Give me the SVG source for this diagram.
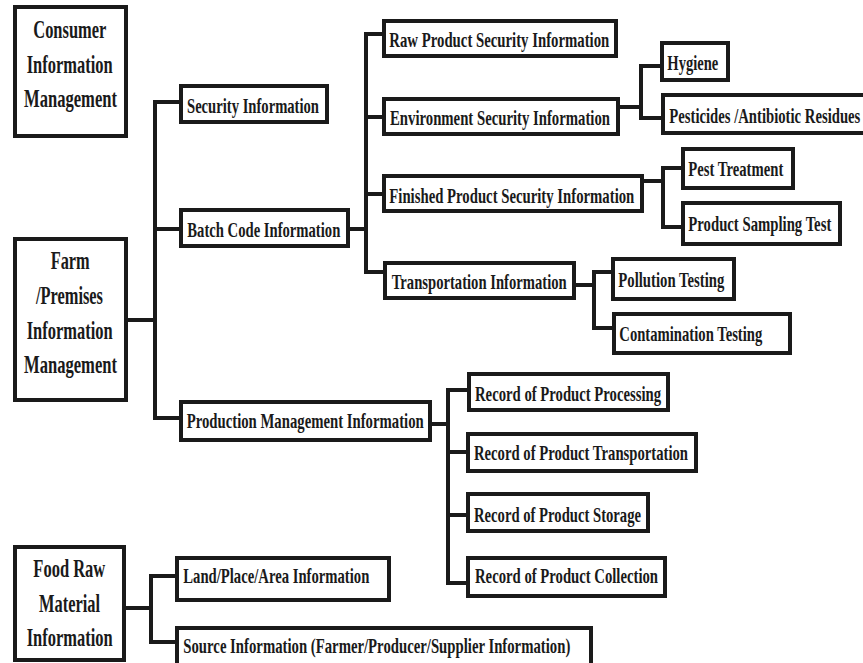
<svg xmlns="http://www.w3.org/2000/svg" width="863" height="663" viewBox="0 0 863 663">
<style>
.box{fill:#fff;stroke:#1a1a1a;stroke-width:4}
.c{fill:none;stroke:#1a1a1a;stroke-width:4;stroke-linecap:square}
text{font-family:"Liberation Serif","Times New Roman",serif;font-weight:bold;font-size:22px;fill:#1a1a1a}
.big{font-size:25px}
</style>
<rect width="863" height="663" fill="#fff"/>
<g id="connectors">
<path class="c" d="M126 320H155M179 102H155V418H179M155 229H179"/>
<path class="c" d="M350 229H366M382 34H366V272H382M366 117H382M366 194H382"/>
<path class="c" d="M620 107H641M660 66H641V118H661"/>
<path class="c" d="M644 181H663M681 168H663V227H681"/>
<path class="c" d="M576 285H594M611 272H594V328H612"/>
<path class="c" d="M432 424H448M467 390H448V583H467M448 452H466M448 515H466"/>
<path class="c" d="M124 608H151M175 576H151V642H175"/>
</g>
<g id="consumer">
<rect class="box" x="15" y="7" width="111" height="129"/>
<text class="big" x="33.3" y="37.7" textLength="73" lengthAdjust="spacingAndGlyphs">Consumer</text>
<text class="big" x="26.7" y="72.7" textLength="86" lengthAdjust="spacingAndGlyphs">Information</text>
<text class="big" x="24" y="106.7" textLength="93" lengthAdjust="spacingAndGlyphs">Management</text>
</g>
<g id="farm">
<rect class="box" x="15" y="239" width="111" height="161"/>
<text class="big" x="50.7" y="269" textLength="39" lengthAdjust="spacingAndGlyphs">Farm</text>
<text class="big" x="36" y="304" textLength="67" lengthAdjust="spacingAndGlyphs">/Premises</text>
<text class="big" x="26.7" y="338.5" textLength="86" lengthAdjust="spacingAndGlyphs">Information</text>
<text class="big" x="24" y="372.7" textLength="93" lengthAdjust="spacingAndGlyphs">Management</text>
</g>
<g id="food">
<rect class="box" x="15" y="547" width="109" height="113"/>
<text class="big" x="33.3" y="576.7" textLength="72" lengthAdjust="spacingAndGlyphs">Food Raw</text>
<text class="big" x="39" y="611.7" textLength="61" lengthAdjust="spacingAndGlyphs">Material</text>
<text class="big" x="26.7" y="645.7" textLength="86" lengthAdjust="spacingAndGlyphs">Information</text>
</g>
<g id="security">
<rect class="box" x="181" y="86" width="146" height="36"/>
<text x="187" y="112.5" textLength="132" lengthAdjust="spacingAndGlyphs">Security Information</text>
</g>
<g id="batch">
<rect class="box" x="181" y="210" width="167" height="36"/>
<text x="187.3" y="236.7" textLength="153" lengthAdjust="spacingAndGlyphs">Batch Code Information</text>
</g>
<g id="production">
<rect class="box" x="181" y="402" width="249" height="38"/>
<text x="186.7" y="428.3" textLength="237" lengthAdjust="spacingAndGlyphs">Production Management Information</text>
</g>
<g id="raw">
<rect class="box" x="384" y="21" width="232" height="35"/>
<text x="389.3" y="47" textLength="220" lengthAdjust="spacingAndGlyphs">Raw Product Security Information</text>
</g>
<g id="environment">
<rect class="box" x="384" y="99" width="234" height="35"/>
<text x="390" y="125" textLength="220" lengthAdjust="spacingAndGlyphs">Environment Security Information</text>
</g>
<g id="finished">
<rect class="box" x="384" y="176" width="258" height="35"/>
<text x="389.3" y="202.7" textLength="245" lengthAdjust="spacingAndGlyphs">Finished Product Security Information</text>
</g>
<g id="transportation">
<rect class="box" x="385" y="263" width="189" height="35"/>
<text x="391.7" y="289" textLength="175" lengthAdjust="spacingAndGlyphs">Transportation Information</text>
</g>
<g id="hygiene">
<rect class="box" x="662" y="43" width="66" height="37"/>
<text x="667.3" y="70" textLength="51" lengthAdjust="spacingAndGlyphs">Hygiene</text>
</g>
<g id="pesticides">
<rect class="box" x="663" y="95" width="210" height="38"/>
<text x="669.3" y="122.7" textLength="191" lengthAdjust="spacingAndGlyphs">Pesticides /Antibiotic Residues</text>
</g>
<g id="pest">
<rect class="box" x="683" y="149" width="110" height="39"/>
<text x="688.3" y="176" textLength="95" lengthAdjust="spacingAndGlyphs">Pest Treatment</text>
</g>
<g id="sampling">
<rect class="box" x="683" y="203" width="157" height="41"/>
<text x="688.3" y="230.7" textLength="143" lengthAdjust="spacingAndGlyphs">Product Sampling Test</text>
</g>
<g id="pollution">
<rect class="box" x="613" y="259" width="121" height="40"/>
<text x="618.3" y="286.7" textLength="106" lengthAdjust="spacingAndGlyphs">Pollution Testing</text>
</g>
<g id="contamination">
<rect class="box" x="614" y="314" width="176" height="39"/>
<text x="619.3" y="340.7" textLength="143" lengthAdjust="spacingAndGlyphs">Contamination Testing</text>
</g>
<g id="rec-processing">
<rect class="box" x="469" y="374" width="199" height="36"/>
<text x="475" y="400.7" textLength="186" lengthAdjust="spacingAndGlyphs">Record of Product Processing</text>
</g>
<g id="rec-transportation">
<rect class="box" x="468" y="434" width="228" height="37"/>
<text x="474" y="460" textLength="214" lengthAdjust="spacingAndGlyphs">Record of Product Transportation</text>
</g>
<g id="rec-storage">
<rect class="box" x="468" y="494" width="180" height="37"/>
<text x="474" y="521.7" textLength="167" lengthAdjust="spacingAndGlyphs">Record of Product Storage</text>
</g>
<g id="rec-collection">
<rect class="box" x="468" y="558" width="197" height="38"/>
<text x="475" y="583.3" textLength="183" lengthAdjust="spacingAndGlyphs">Record of Product Collection</text>
</g>
<g id="land">
<rect class="box" x="177" y="558" width="212" height="42"/>
<text x="183.3" y="583.3" textLength="186" lengthAdjust="spacingAndGlyphs">Land/Place/Area Information</text>
</g>
<g id="source">
<rect class="box" x="177" y="628" width="414" height="40"/>
<text x="183.3" y="653.3" textLength="387" lengthAdjust="spacingAndGlyphs">Source Information (Farmer/Producer/Supplier Information)</text>
</g>
</svg>
